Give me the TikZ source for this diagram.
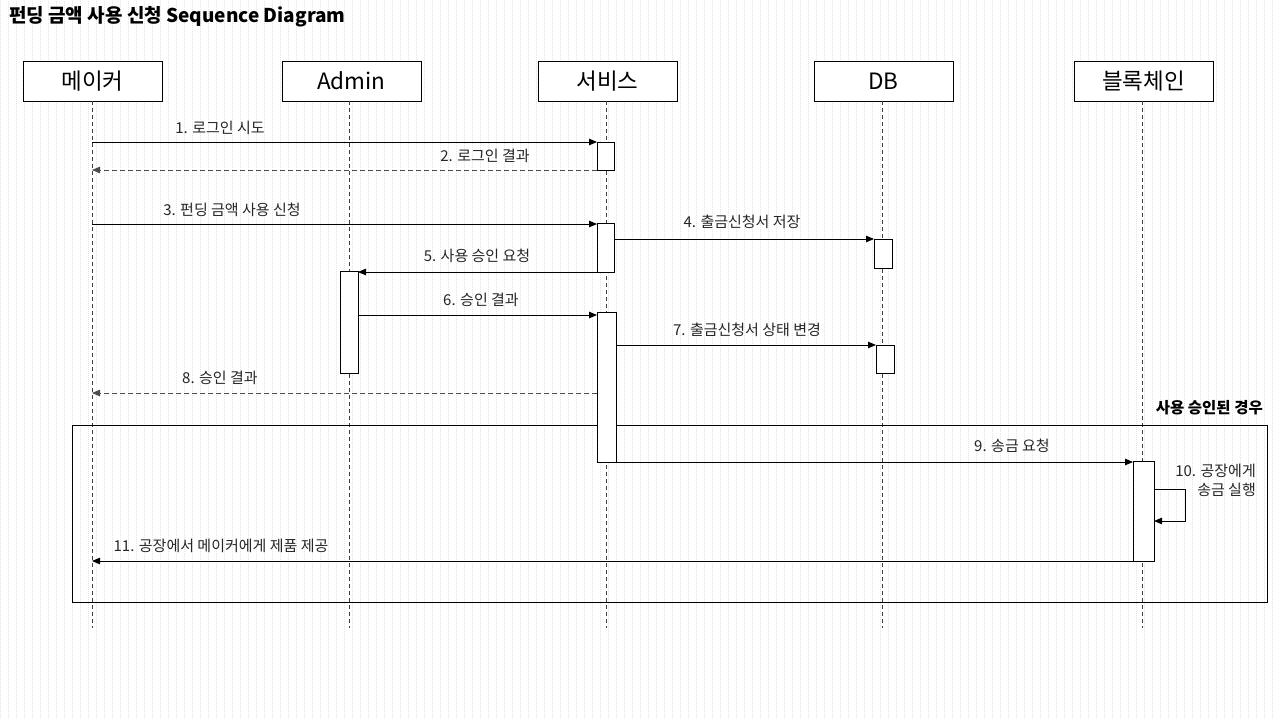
\documentclass[tikz,border=0pt]{standalone}
\usepackage{fontspec}
\setmainfont{Noto Sans CJK KR}
\usetikzlibrary{arrows.meta}
\begin{document}
\begin{tikzpicture}[x=1pt,y=-1pt,
  actor/.style={draw=black,fill=white,line width=0.9pt,minimum width=139pt,minimum height=40pt,inner sep=0pt,font=\fontsize{22.5}{24}\selectfont},
  life/.style={draw=black!75,line width=0.8pt,dash pattern=on 4pt off 3pt},
  act/.style={draw=black,fill=white,line width=0.9pt,outer sep=0pt,inner sep=0pt,anchor=north west},
  msg/.style={draw=black,line width=0.8pt,-{Triangle[length=8pt,width=6.5pt]}},
  ret/.style={draw=black!70,line width=0.8pt,dash pattern=on 5pt off 3pt,-{Triangle[length=8pt,width=6.5pt]}},
  lbl/.style={font=\fontsize{15}{19}\selectfont,text=black!85,inner sep=0pt}]
\useasboundingbox (0,0) rectangle (1280,718);
\fill[white] (0,0) rectangle (1280,718);
\draw[gray!22,line width=0.5pt,dash pattern=on 0.6pt off 1.4pt] (0,0) grid[step=8] (1280,718);
% title
\node[anchor=west,font=\bfseries\fontsize{19}{21}\selectfont,inner sep=0pt] (title) at (9,17) {펀딩 금액 사용 신청 Sequence Diagram};
% actors
\node[actor] (maker) at (92.5,81) {메이커};
\node[actor] (admin) at (351.5,81) {Admin};
\node[actor] (svc) at (607.5,81) {서비스};
\node[actor] (db) at (883.5,81) {DB};
\node[actor] (bc) at (1143.5,81) {블록체인};
% lifeline ends
\coordinate (makerE) at (92,628);
\coordinate (adminE) at (349,628);
\coordinate (svcE) at (606,628);
\coordinate (dbE) at (882,628);
\coordinate (bcE) at (1142,628);
\draw[life] (92,101) -- (makerE);
\draw[life] (349,101) -- (adminE);
\draw[life] (606,101) -- (svcE);
\draw[life] (882,101) -- (dbE);
\draw[life] (1142,101) -- (bcE);
% frame
\draw[line width=0.9pt] (72,425) rectangle (1267,602);
\node[anchor=east,font=\bfseries\fontsize{15.5}{17}\selectfont,inner sep=0pt] (cond) at (1263,408) {사용 승인된 경우};
% activations
\node[act,minimum width=17pt,minimum height=28pt] (s1) at (597,142) {};
\node[act,minimum width=17pt,minimum height=49pt] (s2) at (597,223) {};
\node[act,minimum width=18pt,minimum height=29pt] (d1) at (874,239) {};
\node[act,minimum width=18pt,minimum height=102pt] (a1) at (340,271) {};
\node[act,minimum width=19pt,minimum height=150pt] (s3) at (597,312) {};
\node[act,minimum width=18pt,minimum height=28pt] (d2) at (876,345) {};
\node[act,minimum width=21pt,minimum height=100pt] (b1) at (1133,461) {};
% messages
\coordinate (m1s) at (92,142);
\draw[msg] (m1s) -- (m1s -| s1.west);
\node[lbl] (l1) at (220,128) {1. 로그인 시도};
\coordinate (m2e) at (92,170);
\draw[ret] (s1.west |- m2e) -- (m2e);
\node[lbl] (l2) at (485,156) {2. 로그인 결과};
\coordinate (m3s) at (92,224);
\draw[msg] (m3s) -- (m3s -| s2.west);
\node[lbl] (l3) at (232,210) {3. 펀딩 금액 사용 신청};
\coordinate (m4) at (614,239);
\draw[msg] (s2.east |- m4) -- (d1.west |- m4);
\node[lbl] (l4) at (742,222) {4. 출금신청서 저장};
\coordinate (m5) at (597,272);
\draw[msg] (s2.west |- m5) -- (a1.east |- m5);
\node[lbl] (l5) at (477,256) {5. 사용 승인 요청};
\coordinate (m6) at (597,315);
\draw[msg] (a1.east |- m6) -- (s3.west |- m6);
\node[lbl] (l6) at (481,300) {6. 승인 결과};
\coordinate (m7) at (616,345);
\draw[msg] (s3.east |- m7) -- (d2.west |- m7);
\node[lbl] (l7) at (747,330) {7. 출금신청서 상태 변경};
\coordinate (m8e) at (92,393);
\draw[ret] (s3.west |- m8e) -- (m8e);
\node[lbl] (l8) at (220,378) {8. 승인 결과};
\coordinate (m9) at (616,462);
\draw[msg] (s3.east |- m9) -- (b1.west |- m9);
\node[lbl] (l9) at (1012,446) {9. 송금 요청};
\coordinate (m10a) at (1185,489);
\coordinate (m10b) at (1185,521);
\draw[msg] (b1.east |- m10a) -- (m10a) -- (m10b) -- (b1.east |- m10b);
\node[lbl,anchor=north east,align=right] (l10) at (1256,464) {10. 공장에게\\송금 실행};
\coordinate (m11e) at (92,561);
\draw[msg] (b1.west |- m11e) -- (m11e);
\node[lbl] (l11) at (221,546) {11. 공장에서 메이커에게 제품 제공};
\end{tikzpicture}
\end{document}
